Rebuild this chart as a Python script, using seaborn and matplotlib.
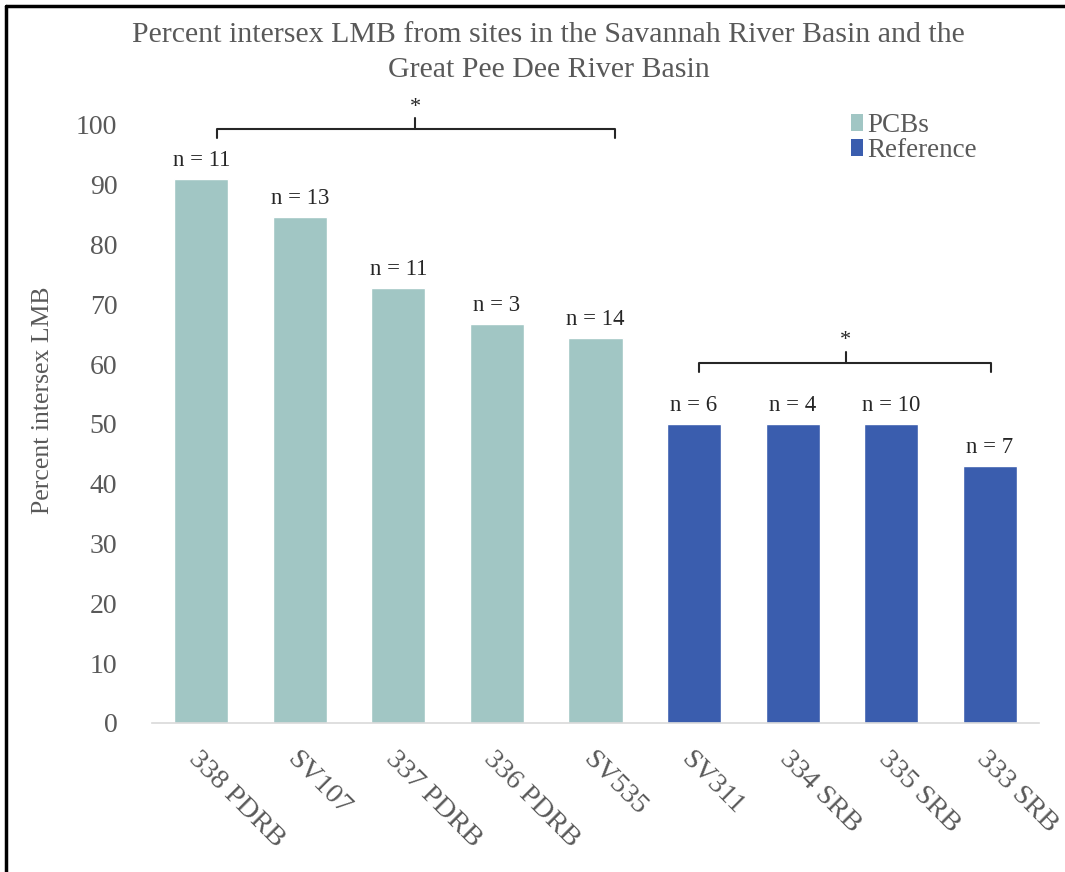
import matplotlib
matplotlib.use("Agg")
import matplotlib.pyplot as plt
from matplotlib.lines import Line2D
from matplotlib.patches import Patch
import pandas as pd
import seaborn as sns

# data
sites = ["338 PDRB", "SV107", "337 PDRB", "336 PDRB", "SV535",
         "SV311", "334 SRB", "335 SRB", "333 SRB"]
percent_intersex = [90.9, 84.6, 72.7, 66.7, 64.3, 50.0, 50.0, 50.0, 42.9]
n_fish = [11, 13, 11, 3, 14, 6, 4, 10, 7]
site_group = ["PCBs"] * 5 + ["Reference"] * 4
group_names = ["PCBs", "Reference"]

df = pd.DataFrame({"site": sites, "percent": percent_intersex,
                   "n": n_fish, "group": site_group})

sns.set_style("white")
plt.rcParams["font.family"] = ["Liberation Serif", "DejaVu Serif"]

GREY = "#595959"
palette = {"PCBs": "#A1C6C4", "Reference": "#3A5DAE"}

fig = plt.figure(figsize=(10.65, 8.72), dpi=100)
ax = fig.add_axes([0.1427, 0.1709, 0.8329, 0.6858])

sns.barplot(data=df, x="site", y="percent", hue="group", palette=palette,
            dodge=False, width=0.55, saturation=1, ax=ax, legend=False)

ax.set_ylim(0, 100)
ax.set_xlim(-0.5, len(sites) - 0.5)
ax.set_yticks(range(0, 101, 10))
ax.tick_params(axis="y", length=0, pad=25, labelsize=20, labelcolor=GREY)
ax.tick_params(axis="x", length=0, pad=17, labelsize=20.5, labelcolor=GREY)
for lab in ax.get_xticklabels():
    lab.set_rotation(-45)
    lab.set_ha("left")
    lab.set_va("top")
    lab.set_rotation_mode("anchor")

for side in ["top", "right", "left"]:
    ax.spines[side].set_visible(False)
ax.spines["bottom"].set_color("#D9D9D9")
ax.spines["bottom"].set_linewidth(1.2)

ax.set_xlabel("")
ax.set_ylabel("Percent intersex LMB", fontsize=18.5, color=GREY)
ax.yaxis.set_label_coords(-0.110, 0.54)

# sample sizes above bars
for i, (p, n) in enumerate(zip(percent_intersex, n_fish)):
    ax.text(i, p + 1.4, f"n = {n}", ha="center", va="bottom",
            fontsize=16.5, color="#262626")

# significance brackets
def bracket(x0, x1, xm, y, drop, rise):
    kw = dict(color="#262626", lw=1.5, clip_on=False)
    ax.plot([x0, x0, x1, x1], [y - drop, y, y, y - drop], **kw)
    ax.plot([xm, xm], [y, y + rise], **kw)
    ax.text(xm, y + rise + 0.3, "*", ha="center", va="bottom",
            fontsize=16, color="#262626", clip_on=False)

bracket(0.16, 4.2, 2.17, 99.3, 1.5, 1.8)
bracket(5.05, 8.01, 6.54, 60.2, 1.5, 1.8)

handles = [Patch(facecolor=palette[g], edgecolor="none") for g in group_names]
fig.legend(handles, group_names, loc="upper left",
           bbox_to_anchor=(0.776, 0.898), frameon=False, fontsize=19.5,
           handlelength=0.45, handleheight=0.6, handletextpad=0.15,
           labelspacing=0.0, labelcolor=GREY)

fig.text(0.515, 0.940, "Percent intersex LMB from sites in the Savannah River Basin and the\nGreat Pee Dee River Basin",
         ha="center", va="center", fontsize=21.5, color=GREY, linespacing=1.42)

# frame lines on top and left edge as in the source image
fig.add_artist(Line2D([0.006, 1.0], [0.993, 0.993], color="black", lw=2.5,
                      transform=fig.transFigure))
fig.add_artist(Line2D([0.006, 0.006], [0.0, 0.993], color="black", lw=2.5,
                      transform=fig.transFigure))

fig.savefig("out.png", dpi=100, facecolor="white")
